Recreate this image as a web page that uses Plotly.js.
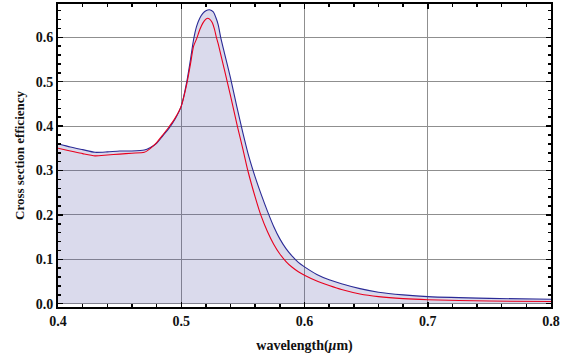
<!DOCTYPE html>
<html>
<head>
<meta charset="utf-8">
<script src="https://cdn.plot.ly/plotly-3.0.1.min.js"></script>
<style>
  html, body { margin: 0; padding: 0; background: #fff; }
  #plot { width: 562px; height: 360px; }
</style>
</head>
<body>
<div id="plot"></div>
<script>
// Wavelength samples (µm) and cross-section efficiency of the two spectra
const wavelengthBlue = [0.400, 0.410, 0.420, 0.430, 0.440, 0.450, 0.460, 0.470, 0.475, 0.480,
  0.485, 0.490, 0.495, 0.500, 0.5045, 0.5075, 0.510, 0.5125, 0.515, 0.5175, 0.520, 0.523,
  0.526, 0.528, 0.530, 0.532, 0.535, 0.540, 0.545, 0.550, 0.555, 0.560, 0.565, 0.570,
  0.575, 0.580, 0.585, 0.590, 0.595, 0.600, 0.610, 0.620, 0.630, 0.645, 0.660, 0.680,
  0.700, 0.750, 0.800];
const efficiencyBlue = [0.360, 0.353, 0.347, 0.341, 0.342, 0.344, 0.344, 0.346, 0.352, 0.361,
  0.378, 0.395, 0.416, 0.445, 0.500, 0.550, 0.595, 0.625, 0.643, 0.654, 0.660, 0.662,
  0.657, 0.645, 0.628, 0.600, 0.565, 0.508, 0.445, 0.385, 0.330, 0.285, 0.245, 0.208,
  0.174, 0.146, 0.124, 0.107, 0.093, 0.083, 0.066, 0.054, 0.045, 0.034, 0.026, 0.020,
  0.016, 0.012, 0.010];

const wavelengthRed = [0.400, 0.410, 0.420, 0.430, 0.440, 0.450, 0.460, 0.470, 0.475, 0.480,
  0.485, 0.490, 0.495, 0.500, 0.5045, 0.5075, 0.510, 0.5125, 0.515, 0.5175, 0.520, 0.5215,
  0.523, 0.525, 0.527, 0.5285, 0.530, 0.535, 0.540, 0.5455, 0.550, 0.554, 0.560, 0.5645,
  0.570, 0.575, 0.580, 0.585, 0.590, 0.595, 0.600, 0.610, 0.620, 0.630, 0.645, 0.660,
  0.680, 0.700, 0.750, 0.800];
const efficiencyRed = [0.350, 0.344, 0.338, 0.333, 0.335, 0.337, 0.339, 0.341, 0.350, 0.363,
  0.380, 0.398, 0.418, 0.445, 0.495, 0.540, 0.580, 0.597, 0.617, 0.632, 0.641, 0.643,
  0.641, 0.634, 0.618, 0.600, 0.585, 0.527, 0.468, 0.400, 0.348, 0.300, 0.240, 0.200,
  0.162, 0.134, 0.112, 0.095, 0.082, 0.072, 0.064, 0.051, 0.041, 0.032, 0.022, 0.016,
  0.0115, 0.009, 0.006, 0.005];

const xTickVals = [0.4, 0.5, 0.6, 0.7, 0.8];
const xTickText = ['0.4', '0.5', '0.6', '0.7', '0.8'];
const yTickVals = [0.0, 0.1, 0.2, 0.3, 0.4, 0.5, 0.6];
const yTickText = ['0.0', '0.1', '0.2', '0.3', '0.4', '0.5', '0.6'];

const serif = 'Liberation Serif, Times New Roman, serif';

const traces = [
  {
    x: wavelengthBlue, y: efficiencyBlue,
    type: 'scatter', mode: 'lines',
    line: { color: '#2a2a96', width: 1.1, shape: 'spline', smoothing: 0.6 },
    fill: 'tozeroy', fillcolor: 'rgba(72,72,160,0.2)',
    hoverinfo: 'skip'
  },
  {
    x: wavelengthRed, y: efficiencyRed,
    type: 'scatter', mode: 'lines',
    line: { color: '#e8001e', width: 1.1, shape: 'spline', smoothing: 0.6 },
    hoverinfo: 'skip'
  }
];

const axisCommon = {
  showline: true, linecolor: '#000', linewidth: 2, mirror: 'allticks',
  ticks: 'inside', ticklen: 5, tickwidth: 1.5, tickcolor: '#000',
  showgrid: true, gridcolor: '#8f8f8f', gridwidth: 1,
  zeroline: false,
  tickfont: { family: serif, size: 14, color: '#111', weight: 'bold' }
};

const layout = {
  width: 562, height: 360,
  margin: { l: 58, r: 11, t: 4, b: 53 },
  paper_bgcolor: '#fff', plot_bgcolor: '#fff',
  showlegend: false,
  xaxis: Object.assign({}, axisCommon, {
    range: [0.4, 0.8],
    tickmode: 'array', tickvals: xTickVals, ticktext: xTickText,
    minor: { dtick: 0.02, tick0: 0.4, ticks: 'inside', ticklen: 3, tickwidth: 1.5, tickcolor: '#000', showgrid: false },
    title: { text: 'wavelength(<i>μ</i>m)', standoff: 12,
             font: { family: serif, size: 14, color: '#111', weight: 'bold' } }
  }),
  yaxis: Object.assign({}, axisCommon, {
    range: [-0.0074, 0.675],
    tickmode: 'array', tickvals: yTickVals, ticktext: yTickText,
    minor: { dtick: 0.02, tick0: 0, ticks: 'inside', ticklen: 3, tickwidth: 1.5, tickcolor: '#000', showgrid: false },
    title: { text: 'Cross section efficiency', standoff: 8,
             font: { family: serif, size: 13, color: '#111', weight: 'bold' } }
  })
};

Plotly.newPlot('plot', traces, layout, { staticPlot: true, displayModeBar: false });
</script>
</body>
</html>
